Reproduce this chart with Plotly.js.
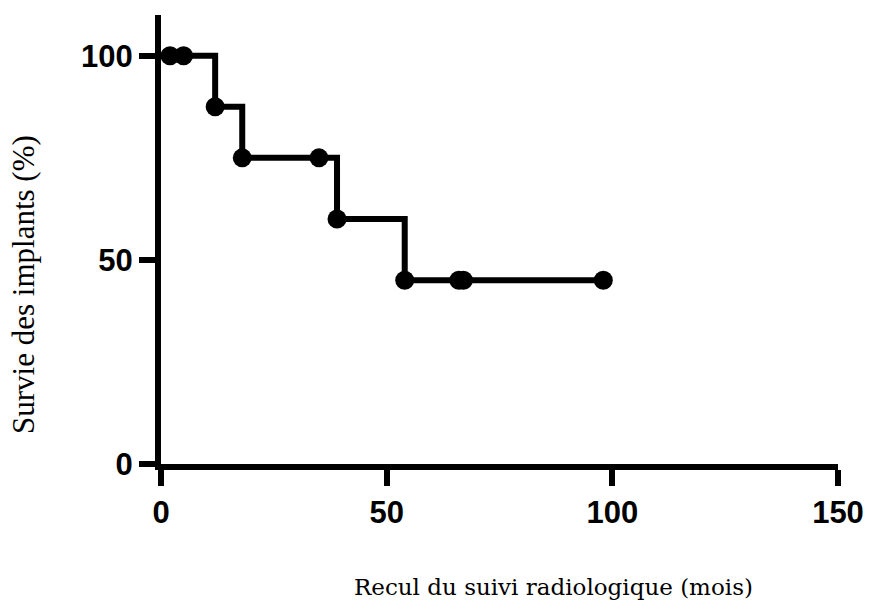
<!DOCTYPE html>
<html>
<head>
<meta charset="utf-8">
<script src="https://cdn.plot.ly/plotly-3.0.1.min.js"></script>
<style>html,body{margin:0;padding:0;background:#fff;}#chart{width:870px;height:614px;}</style>
</head>
<body>
<div id="chart"></div>
<script>
// Kaplan-Meier survival curve data
const months = [0, 2, 5, 12, 18, 35, 39, 54, 66, 67, 98];
const survival = [100, 100, 100, 87.5, 75, 75, 60, 45, 45, 45, 45];
const xTickVals = [0, 50, 100, 150];
const yTickVals = [0, 50, 100];
const xTitle = 'Recul du suivi radiologique (mois)';
const yTitle = 'Survie des implants (%)';

const stepTrace = {
  x: months, y: survival, type: 'scatter', mode: 'lines',
  line: {shape: 'hv', color: '#000', width: 6},
  hoverinfo: 'skip', showlegend: false
};
const markTrace = {
  x: months.slice(1), y: survival.slice(1), type: 'scatter', mode: 'markers',
  marker: {color: '#000', size: 19},
  showlegend: false
};

const tickFont = {family: '"Liberation Sans", Arial, sans-serif', size: 31, color: '#000', weight: 'bold'};

const layout = {
  width: 870, height: 614,
  margin: {l: 161, r: 32, t: 15, b: 150},
  paper_bgcolor: '#fff', plot_bgcolor: '#fff',
  showlegend: false,
  xaxis: {
    range: [0, 150], tickvals: xTickVals, ticktext: xTickVals.map(String),
    showline: true, linewidth: 6, linecolor: '#000',
    ticks: 'outside', ticklen: 16, tickwidth: 6, tickcolor: '#000',
    showgrid: false, zeroline: false, tickfont: tickFont
  },
  yaxis: {
    range: [0, 110], tickvals: yTickVals, ticktext: yTickVals.map(String),
    showline: true, linewidth: 6, linecolor: '#000',
    ticks: 'outside', ticklen: 16, tickwidth: 6, tickcolor: '#000',
    showgrid: false, zeroline: false, tickfont: tickFont
  },
  annotations: [
    {text: xTitle, xref: 'paper', yref: 'paper', x: 0.58, y: -0.275, xanchor: 'center', yanchor: 'middle',
     showarrow: false, font: {family: '"DejaVu Serif", "Liberation Serif", serif', size: 23, color: '#000'}},
    {text: yTitle, xref: 'paper', yref: 'paper', x: -0.203, y: 0.40, xanchor: 'center', yanchor: 'middle', textangle: -90,
     showarrow: false, font: {family: '"Liberation Serif", "Times New Roman", serif', size: 31, color: '#000'}}
  ]
};

Plotly.newPlot('chart', [stepTrace, markTrace], layout, {displayModeBar: false, staticPlot: true});
</script>
</body>
</html>
